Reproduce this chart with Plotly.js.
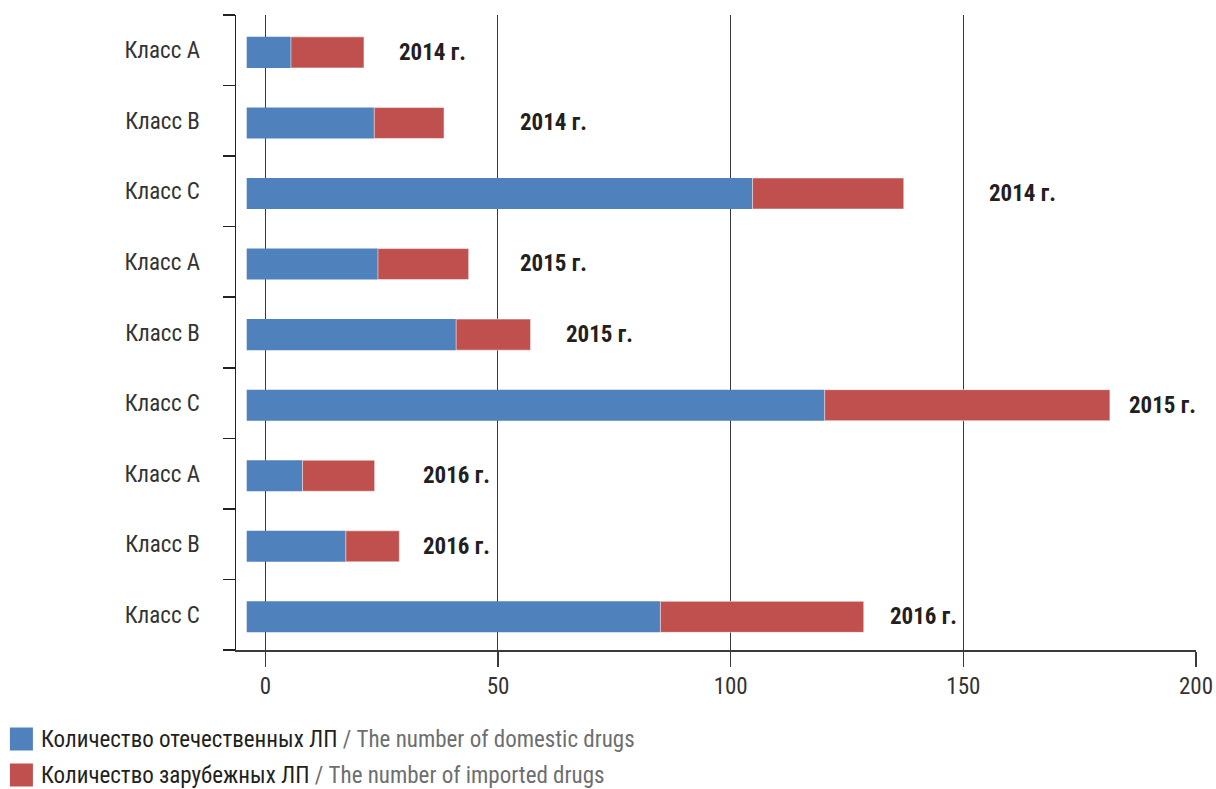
<!DOCTYPE html>
<html>
<head>
<meta charset="utf-8">
<script src="https://cdn.plot.ly/plotly-3.0.1.min.js"></script>
<style>html,body{margin:0;padding:0;background:#fff;}#chart{width:1216px;height:789px;}</style>
</head>
<body>
<div id="chart"></div>
<script>
// ---- data ----
const classLabels = ["Класс A","Класс B","Класс C","Класс A","Класс B","Класс C","Класс A","Класс B","Класс C"];
const yearLabels  = ["2014 г.","2014 г.","2014 г.","2015 г.","2015 г.","2015 г.","2016 г.","2016 г.","2016 г."];
const domestic = [9.5, 27.4, 108.7, 28.2, 45.0, 124.2, 12.0, 21.3, 88.9];
const imported = [15.7, 15.0, 32.5, 19.5, 16.0, 61.3, 15.5, 11.5, 43.7];
const yearLabelX = [28.4, 54.4, 155.0, 54.4, 64.1, 185.1, 33.5, 33.5, 133.9];
const domesticName = "Количество отечественных ЛП";
const domesticNameEn = "The number of domestic drugs";
const importedName = "Количество зарубежных ЛП";
const importedNameEn = "The number of imported drugs";

// ---- styles ----
const FONT = "'Liberation Sans Narrow', 'Arial Narrow', 'Roboto Condensed', 'Liberation Sans', sans-serif";
const BLUE = "#4F81BD", RED = "#C0504D";
const BAR_BASE = -4.0; // bars in the source start slightly left of zero
const BAR_W = 0.44, BAR_OFF = -0.19;

const ids = classLabels.map((c, i) => "row" + i);

const traces = [
  {
    type: "bar", orientation: "h", name: domesticName,
    y: ids, x: domestic, base: domestic.map(() => BAR_BASE),
    width: BAR_W, offset: BAR_OFF,
    marker: {color: BLUE}, showlegend: false, hoverinfo: "x"
  },
  {
    type: "bar", orientation: "h", name: importedName,
    y: ids, x: imported, base: domestic.map(d => BAR_BASE + d),
    width: BAR_W, offset: BAR_OFF,
    marker: {color: RED, line: {color: "#fff", width: 0.5}}, showlegend: false, hoverinfo: "x"
  }
];

const annotations = yearLabels.map((t, i) => ({
  x: yearLabelX[i], y: ids[i], xref: "x", yref: "y", yshift: -2,
  text: "<b>" + t + "</b>", showarrow: false, xanchor: "left", yanchor: "middle",
  font: {family: FONT, size: 23, color: "#231f20"}
}));

// custom legend (large squares like the source)
const legendItems = [
  {ru: domesticName, en: domesticNameEn, color: BLUE, py: 739},
  {ru: importedName, en: importedNameEn, color: RED, py: 775}
];
const PL = 236, PW = 959.6, PT = 15, PH = 635;
const px2x = px => (px - PL) / PW;
const py2y = py => (PT + PH - py) / PH;
const shapes = [];
legendItems.forEach(it => {
  shapes.push({type: "rect", xref: "paper", yref: "paper",
    x0: px2x(10), x1: px2x(33), y0: py2y(it.py + 11.5), y1: py2y(it.py - 11.5),
    fillcolor: it.color, line: {width: 0}});
  annotations.push({xref: "paper", yref: "paper", x: px2x(40), y: py2y(it.py),
    xanchor: "left", yanchor: "middle", showarrow: false, borderpad: 0,
    text: it.ru + ' <span style="color:#6d6e71">/ ' + it.en + '</span>',
    font: {family: FONT, size: 23, color: "#231f20"}});
});

const layout = {
  width: 1216, height: 789,
  margin: {l: PL, r: 1216 - PL - PW, t: PT, b: 789 - PT - PH, pad: 0},
  paper_bgcolor: "#fff", plot_bgcolor: "#fff",
  barmode: "overlay",
  font: {family: FONT, size: 23, color: "#333"},
  showlegend: false,
  xaxis: {
    range: [-6.3, 200], tickvals: [0, 50, 100, 150, 200],
    showgrid: true, gridcolor: "#3a3a3a", gridwidth: 1, zeroline: false,
    showline: true, linecolor: "#3a3a3a", linewidth: 1.5,
    ticks: "outside", ticklen: 15, tickcolor: "#3a3a3a", tickwidth: 1.5,
    tickfont: {family: FONT, size: 23, color: "#333"}, fixedrange: true
  },
  yaxis: {
    type: "category", categoryorder: "array", categoryarray: ids,
    tickvals: ids, ticktext: classLabels, autorange: "reversed",
    tickson: "boundaries", ticks: "outside", ticklen: 12, tickcolor: "#222", tickwidth: 1.5,
    showline: true, linecolor: "#222", linewidth: 1.5, showgrid: false,
    ticklabelstandoff: 30,
    tickfont: {family: FONT, size: 23, color: "#333"}, fixedrange: true
  },
  annotations: annotations,
  shapes: shapes
};

Plotly.newPlot("chart", traces, layout, {displayModeBar: false, staticPlot: true});
</script>
</body>
</html>
